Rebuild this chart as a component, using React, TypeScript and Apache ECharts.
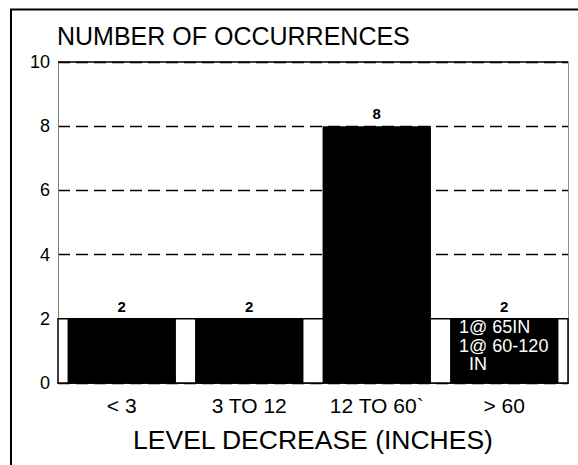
import React, { useEffect, useRef } from "react";
import * as echarts from "echarts";

const TITLE = "NUMBER OF OCCURRENCES";
const X_NAME = "LEVEL DECREASE (INCHES)";
const CATEGORIES = ["< 3", "3 TO 12", "12 TO 60`", "> 60"];
const OCCURRENCES = [2, 2, 8, 2];
const NOTES = ["", "", "", "1@ 65IN\n1@ 60-120\n  IN"];
const Y_MIN = 0;
const Y_MAX = 10;
const Y_STEP = 2;

const FONT = "'Liberation Sans', Arial, Helvetica, sans-serif";

export default function App() {
  const ref = useRef<HTMLDivElement>(null);
  useEffect(() => {
    if (!ref.current) return;
    const chart = echarts.init(ref.current, null, { renderer: "svg" });
    chart.setOption({
      animation: false,
      backgroundColor: "#fff",
      textStyle: { fontFamily: FONT, color: "#000" },
      title: {
        text: TITLE,
        left: 52,
        top: 18,
        textStyle: { fontFamily: FONT, fontSize: 25, fontWeight: "normal", color: "#000" },
      },
      graphic: [
        {
          type: "polyline",
          shape: { points: [[11, 470], [11, 9.5], [580, 9.5]] },
          style: { stroke: "#000", lineWidth: 2, fill: "none" },
          silent: true,
        },
      ],
      grid: { left: 58, right: 10, top: 62, bottom: 82 },
      xAxis: {
        type: "category",
        data: CATEGORIES,
        name: X_NAME,
        nameLocation: "middle",
        nameGap: 43,
        nameTextStyle: { fontFamily: FONT, fontSize: 26.5, color: "#000", verticalAlign: "top" },
        axisLine: { lineStyle: { color: "#000", width: 1.5 } },
        axisTick: { show: false },
        axisLabel: { fontFamily: FONT, fontSize: 21, color: "#000", margin: 12 },
      },
      yAxis: [
        {
          type: "value",
          min: Y_MIN,
          max: Y_MAX,
          interval: Y_STEP,
          axisLine: { show: true, lineStyle: { color: "#666", width: 1, type: "dotted" } },
          axisTick: { show: false },
          axisLabel: { fontFamily: FONT, fontSize: 18, color: "#000", margin: 8 },
          splitLine: { show: true, lineStyle: { color: "#000", width: 1.3, type: [12, 6] } },
        },
        {
          type: "value",
          min: Y_MIN,
          max: Y_MAX,
          interval: Y_STEP,
          position: "right",
          axisLine: { show: true, lineStyle: { color: "#777", width: 1, type: "dotted" } },
          axisTick: { show: false },
          axisLabel: { show: false },
          splitLine: { show: false },
        },
      ],
      series: [
        {
          name: "occurrences",
          type: "bar",
          data: OCCURRENCES,
          barWidth: "85%",
          itemStyle: { color: "#000" },
          label: {
            show: true,
            position: "top",
            distance: 5,
            fontFamily: FONT,
            fontSize: 15,
            fontWeight: "bold",
            color: "#000",
          },
          markArea: {
            silent: true,
            itemStyle: { color: "#fff", borderColor: "#000", borderWidth: 1.5 },
            data: [[{ yAxis: 0 }, { yAxis: OCCURRENCES[0] }]],
          },
          markLine: {
            silent: true,
            symbol: "none",
            label: { show: false },
            lineStyle: { color: "#000", width: 1.5, type: "solid" },
            data: [{ yAxis: Y_MAX }],
          },
        },
        {
          name: "notes",
          type: "bar",
          data: OCCURRENCES,
          barWidth: "85%",
          barGap: "-100%",
          itemStyle: { color: "rgba(0,0,0,0)" },
          label: {
            show: true,
            position: "insideTopLeft",
            distance: 0,
            offset: [9, -1],
            formatter: (p: any) => NOTES[p.dataIndex] || "",
            fontFamily: FONT,
            fontSize: 18,
            lineHeight: 18.5,
            color: "#fff",
          },
          z: 3,
        },
      ],
    });
    return () => chart.dispose();
  }, []);
  return (
    <div
      ref={ref}
      style={{ position: "fixed", left: 0, top: 0, width: 578, height: 465 }}
    />
  );
}
